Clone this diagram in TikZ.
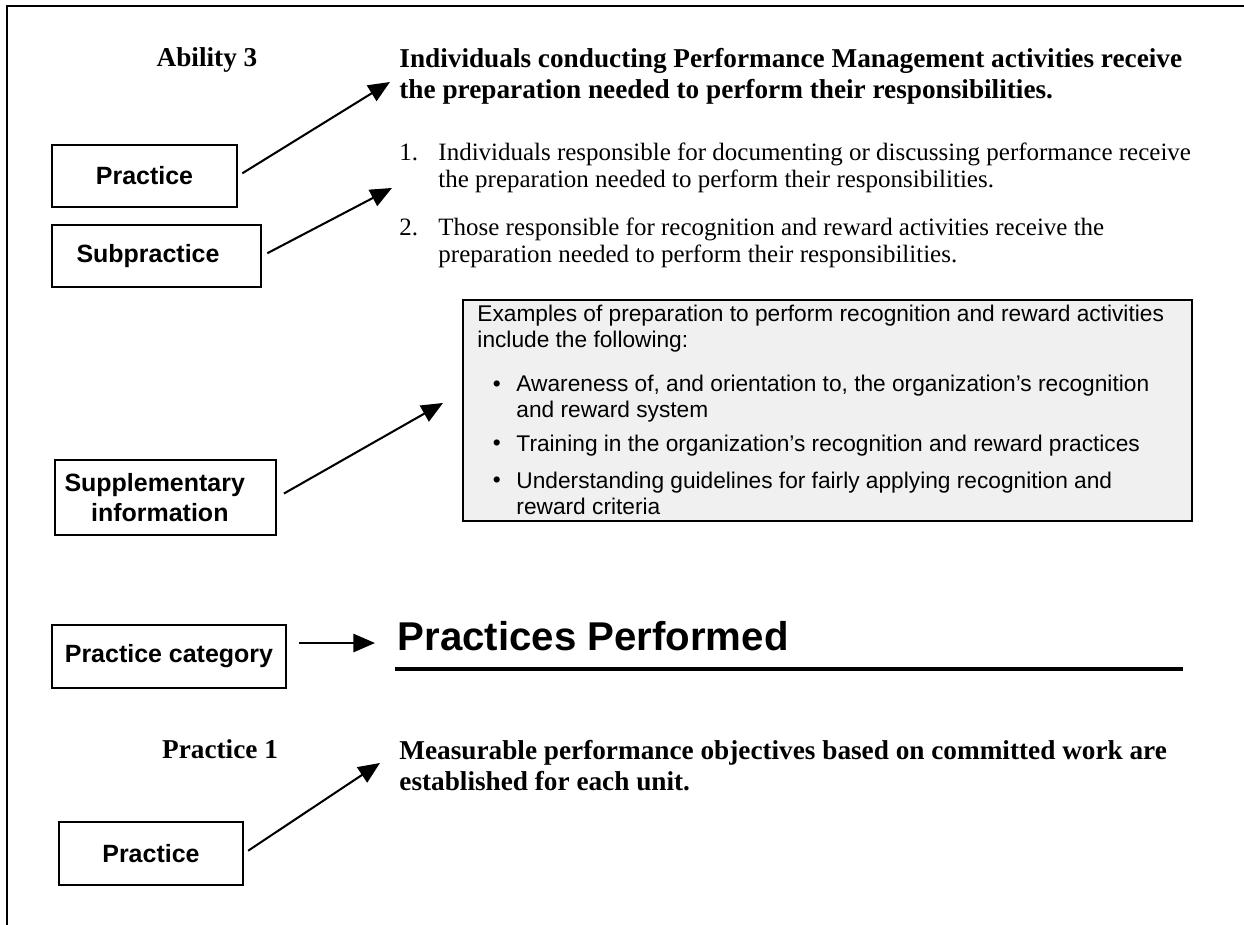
\documentclass[tikz,border=0pt]{standalone}
\usepackage{fontspec}
\setmainfont{Liberation Serif}
\setsansfont{Liberation Sans}
\usetikzlibrary{arrows.meta}

\begin{document}
\begin{tikzpicture}[
		tag/.style={rectangle, draw, line width=0.9pt, inner sep=0pt, align=center,
			font=\sffamily\bfseries\fontsize{11}{13}\selectfont},
		arr/.style={line width=0.9pt, -{Triangle[length=9.5pt, width=8pt]}},
		stmt/.style={anchor=north west, inner sep=0pt, align=left,
			font=\bfseries\fontsize{12}{13.7}\selectfont},
		sub/.style={anchor=base west, inner sep=0pt,
			font=\fontsize{11}{11.9}\selectfont},
		ex/.style={anchor=north west, inner sep=0pt, align=left,
			font=\sffamily\fontsize{10}{11.3}\selectfont}
	]
  \useasboundingbox (0cm, 0cm) rectangle (19.257cm, -14.319cm);
  \draw[line width=0.9pt] (19.257cm, -0.093cm) -- (0.108cm, -0.093cm) -- (0.108cm, -14.319cm);

  % Ability 3
  \node (abil_3) [anchor=base, inner sep=0pt, font=\bfseries\fontsize{12}{14}\selectfont] at (3.204cm, -1.037cm) {Ability 3};
  \node (head_a) [stmt] at (6.176cm, -0.746cm) {Individuals conducting Performance Management activities receive\\the preparation needed to perform their responsibilities.};
  \node (item_1) [sub] at (6.176cm, -2.477cm) {\begin{tabular}[t]{@{}p{17.2pt}@{}l@{}}
    1. & Individuals responsible for documenting or discussing performance receive\\
       & the preparation needed to perform their responsibilities.\end{tabular}};
  \node (item_2) [sub] at (6.176cm, -3.638cm) {\begin{tabular}[t]{@{}p{17.2pt}@{}l@{}}
    2. & Those responsible for recognition and reward activities receive the\\
       & preparation needed to perform their responsibilities.\end{tabular}};

  % supplementary box
  \filldraw[fill=gray!12, line width=0.6pt] (7.167cm, -4.644cm) rectangle (18.452cm, -8.065cm);
  \node (ex_intro) [ex] at (7.384cm, -4.714cm) {Examples of preparation to perform recognition and reward activities\\include the following:};
  \node (dot_1) [anchor=base, inner sep=0pt, font=\sffamily\fontsize{10}{12}\selectfont] at (7.693cm, -6.053cm) {\textbullet};
  \node (bul_1) [ex] at (7.988cm, -5.797cm) {Awareness of, and orientation to, the organization’s recognition\\and reward system};
  \node (dot_2) [anchor=base, inner sep=0pt, font=\sffamily\fontsize{10}{12}\selectfont] at (7.693cm, -6.981cm) {\textbullet};
  \node (bul_2) [ex] at (7.988cm, -6.726cm) {Training in the organization’s recognition and reward practices};
  \node (dot_3) [anchor=base, inner sep=0pt, font=\sffamily\fontsize{10}{12}\selectfont] at (7.693cm, -7.554cm) {\textbullet};
  \node (bul_3) [ex] at (7.988cm, -7.299cm) {Understanding guidelines for fairly applying recognition and\\reward criteria};

  % practice category
  \node (pp) [anchor=base west, inner sep=0pt, font=\sffamily\bfseries\fontsize{17.7}{20}\selectfont] at (6.150cm, -10.077cm) {Practices Performed};
  \draw[line width=1.5pt] (6.115cm, -10.356cm) -- (18.313cm, -10.356cm);
  \node (prac_1) [anchor=base, inner sep=0pt, font=\bfseries\fontsize{12}{14}\selectfont] at (3.406cm, -11.749cm) {Practice 1};
  \node (meas) [stmt] at (6.176cm, -11.458cm) {Measurable performance objectives based on committed work are\\established for each unit.};

  % labels on the left
  \node (prac_a) [tag, minimum width=2.864cm, minimum height=0.960cm] at (2.237cm, -2.724cm) {Practice};
  \node (subprac) [tag, minimum width=3.235cm, minimum height=0.960cm] at (2.423cm, -3.963cm) {Subpractice\hspace*{7.5pt}};
  \node (suppl) [tag, minimum width=3.421cm, minimum height=1.161cm] at (2.562cm, -7.701cm) {Supplementary\hspace*{9.5pt}\\information\hspace*{5pt}};
  \node (cat_box) [tag, minimum width=3.622cm, minimum height=0.975cm] at (2.616cm, -10.163cm) {Practice category};
  \node (prac_b) [tag, minimum width=2.848cm, minimum height=0.975cm] at (2.337cm, -13.212cm) {Practice};

  \coordinate (tip_1) at (6.037cm, -1.269cm);
  \coordinate (tip_2) at (6.068cm, -2.910cm);
  \coordinate (tip_3) at (6.858cm, -6.238cm);
  \coordinate (tip_4) at (5.805cm, -9.954cm);
  \coordinate (tip_5) at (5.882cm, -11.811cm);
  \draw[arr, shorten <=2.2pt] (prac_a.east) -- (tip_1);
  \draw[arr, shorten <=2.6pt] (subprac.east) -- (tip_2);
  \draw[arr, shorten <=3.5pt] (suppl.east) -- (tip_3);
  \draw[arr, shorten <=5.3pt] ([yshift=0.209cm]cat_box.east) -- (tip_4);
  \draw[arr, shorten <=2.2pt] (prac_b.east) -- (tip_5);
\end{tikzpicture}
\end{document}
